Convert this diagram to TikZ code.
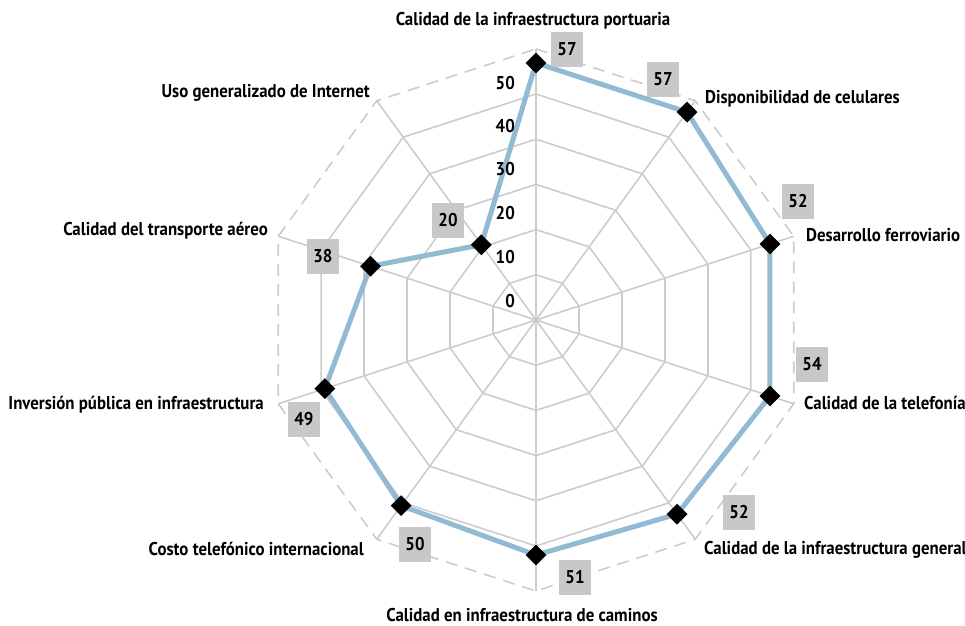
\documentclass[tikz,border=0pt]{standalone}
\usepackage{fontspec}
\setmainfont{PT Sans}[FakeStretch=0.91]
\usetikzlibrary{calc,positioning,shapes.geometric}
\definecolor{gridgray}{RGB}{204,204,204}
\definecolor{lineblue}{RGB}{146,186,210}
\definecolor{boxgray}{RGB}{200,200,200}
\newcommand\chartfont{\bfseries\fontsize{18.5}{19}\selectfont}
\tikzset{>=stealth}

\begin{document}
\begin{tikzpicture}[x=1pt,y=1pt,
  grid/.style={draw=gridgray,line width=1.6pt},
  outer/.style={draw=gridgray,line width=1.6pt,dash pattern=on 12pt off 8pt},
  dataline/.style={draw=lineblue,line width=5pt,line join=round},
  diam/.style={diamond,fill=black,inner sep=0pt,minimum size=21pt},
  valbox/.style={fill=boxgray,minimum width=32pt,minimum height=35pt,inner sep=0pt,font=\chartfont},
  cat/.style={inner sep=0pt,text height=13pt,text depth=0pt,font=\chartfont},
  tick/.style={anchor=east,inner sep=0pt,text height=13pt,text depth=0pt,font=\chartfont}]
\useasboundingbox (-536,-305) rectangle (429,320);
% spokes and rings
\foreach \a in {90,54,...,-234} \draw[grid] (0,0) -- (\a:271);
\foreach \k in {1,...,5}
  \draw[grid] (90:{\k*45.2}) \foreach \a in {54,18,...,-234} {-- (\a:{\k*45.2})} -- cycle;
\draw[outer] (90:271) \foreach \a in {54,18,...,-234} {-- (\a:271)} -- cycle;
% data
\coordinate (p0) at (90:257);
\coordinate (p1) at (54:257);
\coordinate (p2) at (18:246);
\coordinate (p3) at (-18:246);
\coordinate (p4) at (-54:240);
\coordinate (p5) at (-90:235);
\coordinate (p6) at (-126:229.5);
\coordinate (p7) at (-162:222);
\coordinate (p8) at (162:174);
\coordinate (p9) at (126:93);
\draw[dataline] (p0) -- (p1) -- (p2) -- (p3) -- (p4) -- (p5) -- (p6) -- (p7) -- (p8) -- (p9) -- cycle;
\foreach \i in {0,...,9} \node[diam] (d\i) at (p\i) {};
% scale
\node[tick] (t0) at (-21,19) {0};
\node[tick] (t10) at (-21,63) {10};
\node[tick] (t20) at (-21,107) {20};
\node[tick] (t30) at (-21,151) {30};
\node[tick] (t40) at (-21,194) {40};
\node[tick] (t50) at (-21,237) {50};
% values
\node[valbox] (v0) at (31,271) {57};
\node[valbox] (v1) at (127,241) {57};
\node[valbox] (v2) at (262,119) {52};
\node[valbox] (v3) at (276,-44) {54};
\node[valbox] (v4) at (203,-192) {52};
\node[valbox] (v5) at (39,-257) {51};
\node[valbox] (v6) at (-121,-224) {50};
\node[valbox] (v7) at (-232,-99) {49};
\node[valbox] (v8) at (-213,64) {38};
\node[valbox] (v9) at (-88,100) {20};
% categories
\node[cat] (c0) at (-3,301) {Calidad de la infraestructura portuaria};
\node[cat,anchor=west] (c1) at (169,223) {Disponibilidad de celulares};
\node[cat,anchor=west] (c2) at (270,85) {Desarrollo ferroviario};
\node[cat,anchor=west] (c3) at (268,-83) {Calidad de la telefonía};
\node[cat,anchor=west] (c4) at (168,-228) {Calidad de la infraestructura general};
\node[cat] (c5) at (-14,-295) {Calidad en infraestructura de caminos};
\node[cat,anchor=east] (c6) at (-172,-229) {Costo telefónico internacional};
\node[cat,anchor=east] (c7) at (-272,-83) {Inversión pública en infraestructura};
\node[cat,anchor=east] (c8) at (-268,91) {Calidad del transporte aéreo};
\node[cat,anchor=east] (c9) at (-166,229) {Uso generalizado de Internet};
\end{tikzpicture}
\end{document}
